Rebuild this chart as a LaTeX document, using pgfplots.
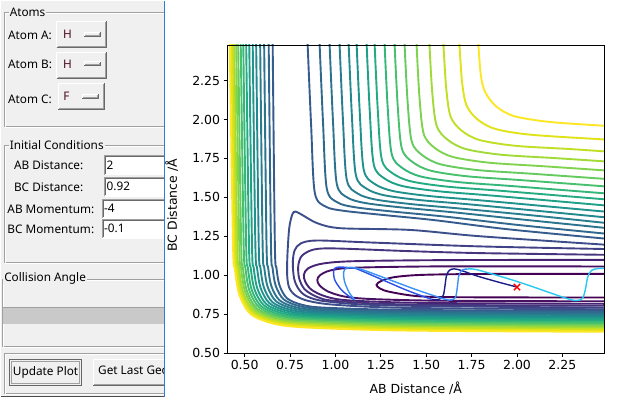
\documentclass[border=0pt]{standalone}
\usepackage{fontspec}
\setmainfont{DejaVu Sans}
\newfontfamily\gui{Noto Sans}
\usepackage{pgfplots}
\pgfplotsset{compat=1.18}
\definecolor{v0}{HTML}{440154}\definecolor{v1}{HTML}{471063}\definecolor{v2}{HTML}{482374}
\definecolor{v3}{HTML}{46347F}\definecolor{v4}{HTML}{414286}\definecolor{v5}{HTML}{3C4F8A}
\definecolor{v6}{HTML}{365C8D}\definecolor{v7}{HTML}{31688E}\definecolor{v8}{HTML}{2C738E}
\definecolor{v9}{HTML}{287D8E}\definecolor{v10}{HTML}{23898E}\definecolor{v11}{HTML}{20938C}
\definecolor{v12}{HTML}{1FA088}\definecolor{v13}{HTML}{25AB82}\definecolor{v14}{HTML}{35B779}
\definecolor{v15}{HTML}{48C16E}\definecolor{v16}{HTML}{65CB5E}\definecolor{v17}{HTML}{7FD34E}
\definecolor{v18}{HTML}{A2DA37}\definecolor{v19}{HTML}{C0DF25}\definecolor{v20}{HTML}{DFE318}
\definecolor{v21}{HTML}{FDE725}
\definecolor{guigray}{HTML}{F0F0F0}
\definecolor{etchd}{HTML}{A0A0A0}
\definecolor{btnd}{HTML}{696969}
\definecolor{sepblue}{HTML}{2F7ED8}
\definecolor{hcol}{HTML}{4B0A1E}
\definecolor{trA}{HTML}{1B1B8A}
\definecolor{trB}{HTML}{2A50E8}
\definecolor{trC}{HTML}{3A92F8}
\definecolor{trD}{HTML}{28C8F0}
\newcommand\guifont{\gui\fontsize{11.8bp}{13bp}\selectfont}
\newcommand\raised[4]{%
  \fill[guigray] (#1,#2) rectangle (#3,#4);
  \draw[white] (#1,#4) -- (#1,#2) -- (#3,#2);
  \draw[btnd] (#1,#4) -- (#3,#4) -- (#3,#2);
  \draw[etchd] ({#1+1},{#4-1}) -- ({#3-1},{#4-1}) -- ({#3-1},{#2+1});}
\newcommand\sunken[4]{%
  \fill[white] (#1,#2) rectangle (#3,#4);
  \draw[etchd] (#1,#4) -- (#1,#2) -- (#3,#2);
  \draw[btnd] ({#1+1},{#4-1}) -- ({#1+1},{#2+1}) -- ({#3-1},{#2+1});
  \draw[white] (#1,#4) -- (#3,#4) -- (#3,#2);}
\pgfplotsset{ct/.style={smooth, line width=1.9bp, no markers}}
\begin{document}
\begin{tikzpicture}
\begin{scope}[x=1bp,y=-1bp]
\fill[white] (0,0) rectangle (629,397);
\fill[guigray] (0,0) rectangle (164,397);
% Atoms frame
\draw[etchd] (3.5,11.7) rectangle (180,126);
\draw[white] (4.5,12.7) rectangle (181,127);
\node[anchor=west, fill=guigray, inner xsep=1bp, inner ysep=0pt, font=\guifont] at (8,11.2) {Atoms};
\node[anchor=west, inner sep=0pt, font=\guifont] at (7.3,35) {Atom A:};
\node[anchor=west, inner sep=0pt, font=\guifont] at (7.3,64) {Atom B:};
\node[anchor=west, inner sep=0pt, font=\guifont] at (7.3,98.3) {Atom C:};
\raised{56}{20.7}{105.3}{46.7}
\raised{56}{51.7}{105.3}{77.3}
\raised{57.3}{82.7}{104}{108.7}
\node[font=\guifont, text=hcol, inner sep=0pt] at (67,34) {H};
\node[font=\guifont, text=hcol, inner sep=0pt] at (67,64) {H};
\node[font=\guifont, text=hcol, inner sep=0pt] at (65.8,96) {F};
\raised{83.3}{31.3}{100}{35.3}
\raised{83.3}{61}{100}{65}
\raised{81.7}{93.7}{97.7}{97.7}
% Initial conditions frame
\draw[etchd] (3.5,145) rectangle (180,262);
\draw[white] (4.5,146) rectangle (181,263);
\node[anchor=west, fill=guigray, inner xsep=1bp, inner ysep=0pt, font=\guifont] at (8,144.5) {Initial Conditions};
\node[anchor=west, inner sep=0pt, font=\guifont] at (13.3,165) {AB Distance:};
\node[anchor=west, inner sep=0pt, font=\guifont] at (13.3,186.7) {BC Distance:};
\node[anchor=west, inner sep=0pt, font=\guifont] at (6.7,208.5) {AB Momentum:};
\node[anchor=west, inner sep=0pt, font=\guifont] at (6.7,228.5) {BC Momentum:};
\sunken{104}{155}{175}{174}
\sunken{104}{176.7}{175}{195.7}
\sunken{101.5}{198.3}{175}{217.3}
\sunken{101.5}{218.3}{175}{237.3}
\node[anchor=west, inner sep=0pt, font=\guifont] at (106,164.5) {2};
\node[anchor=west, inner sep=0pt, font=\guifont] at (106,186.2) {0.92};
\node[anchor=west, inner sep=0pt, font=\guifont] at (103.5,207.8) {-4};
\node[anchor=west, inner sep=0pt, font=\guifont] at (103.5,227.8) {-0.1};
% Collision angle frame
\draw[etchd] (2,278.3) rectangle (180,346);
\draw[white] (3,279.3) rectangle (181,347);
\node[anchor=west, fill=guigray, inner xsep=1bp, inner ysep=0pt, font=\guifont] at (2.5,277.8) {Collision Angle};
\fill[black!21] (2,306.7) rectangle (175,323.5);
\draw[etchd] (2,323.5) -- (2,306.7) -- (175,306.7);
% bottom frame
\draw[etchd] (3.5,352.5) rectangle (180,393);
\draw[white] (4.5,353.5) rectangle (181,394);
\fill[guigray] (9.3,359.3) rectangle (80.7,385);
\draw[black!60, line width=1.2bp] (9.3,359.3) rectangle (80.7,385);
\draw[etchd] (11,361) rectangle (79,383.3);
\node[font=\guifont, inner sep=0pt] at (45,372.5) {Update Plot};
\raised{92.3}{359}{190}{384.5}
\node[anchor=west, font=\guifont, inner sep=0pt] at (97.5,371.5) {Get Last Geometry};
\draw[black!70, line width=1.2bp] (0,396.4) -- (164,396.4);
% plot region
\fill[white] (164.6,0) rectangle (629,397);
\draw[sepblue, line width=1.4bp] (164,0) -- (164,397);
\end{scope}
\begin{axis}[
  at={(226.7bp,-352.7bp)}, anchor=south west,
  scale only axis, width=377.6bp, height=308.4bp,
  xmin=0.403, xmax=2.481, ymin=0.5, ymax=2.479,
  axis on top,
  xtick={0.5,0.75,1,1.25,1.5,1.75,2,2.25},
  xticklabels={0.50,0.75,1.00,1.25,1.50,1.75,2.00,2.25},
  ytick={0.5,0.75,1,1.25,1.5,1.75,2,2.25},
  yticklabels={0.50,0.75,1.00,1.25,1.50,1.75,2.00,2.25},
  tick align=outside, major tick length=3.5bp,
  xtick pos=left, ytick pos=left,
  tick style={black, line width=0.8bp},
  axis line style={black, line width=0.9bp},
  ticklabel style={font=\fontsize{12.5bp}{14bp}\selectfont},
  label style={font=\fontsize{12.5bp}{14bp}\selectfont},
  xlabel={AB Distance /Å}, ylabel={BC Distance /Å},
  xlabel style={at={(axis description cs:0.5,-0.115)}, anchor=center},
  ylabel style={at={(axis description cs:-0.147,0.48)}, anchor=center},
]
% --- wall contours (levels 6..21)
\addplot[ct, v6] coordinates {(0.654,2.5) (0.6661,1.2) (0.6750,1.0467) (0.6918,0.9351) (0.7336,0.8514) (0.8173,0.8096) (0.9429,0.7916) (1.4,0.7770) (2.5,0.7715)};
\addplot[ct, v7] coordinates {(0.632,2.5) (0.6447,1.2) (0.6536,1.0477) (0.671,0.932) (0.7144,0.8452) (0.8012,0.8018) (0.9314,0.7832) (1.4,0.7682) (2.5,0.7625)};
\addplot[ct, v8] coordinates {(0.607,2.5) (0.6202,1.2) (0.6292,1.0485) (0.6472,0.9288) (0.6921,0.839) (0.7819,0.7941) (0.9166,0.7749) (1.4,0.7593) (2.5,0.7535)};
\addplot[ct, v9] coordinates {(0.585,2.5) (0.5987,1.2) (0.6078,1.0491) (0.6264,0.9255) (0.6727,0.8328) (0.7654,0.7865) (0.9045,0.7666) (1.4,0.7506) (2.5,0.7446)};
\addplot[ct, v10] coordinates {(0.563,2.5) (0.5773,1.2) (0.5865,1.0495) (0.6056,0.922) (0.6534,0.8264) (0.749,0.7786) (0.8924,0.7581) (1.4,0.7416) (2.5,0.7356)};
\addplot[ct, v11] coordinates {(0.544,2.5) (0.5587,1.2) (0.568,1.0493) (0.5877,0.9182) (0.6368,0.8199) (0.7351,0.7708) (0.8826,0.7497) (1.4,0.7328) (2.5,0.7266)};
\addplot[ct, v12] coordinates {(0.525,2.5) (0.5401,1.2) (0.5495,1.0491) (0.5697,0.9144) (0.6202,0.8134) (0.7212,0.7629) (0.8727,0.7413) (1.4,0.724) (2.5,0.7176)};
\addplot[ct, v13] coordinates {(0.508,2.5) (0.5235,1.2) (0.533,1.0485) (0.5537,0.9104) (0.6055,0.8068) (0.7091,0.755) (0.8645,0.7328) (1.4,0.7152) (2.5,0.7086)};
\addplot[ct, v14] coordinates {(0.492,2.5) (0.508,1.2) (0.5176,1.0479) (0.5388,0.9063) (0.5919,0.8001) (0.6981,0.747) (0.8574,0.7242) (1.4,0.7062) (2.5,0.6996)};
\addplot[ct, v15] coordinates {(0.478,2.5) (0.4943,1.2) (0.504,1.0467) (0.5257,0.9019) (0.58,0.7933) (0.6886,0.739) (0.8515,0.7157) (1.4,0.6974) (2.5,0.6906)};
\addplot[ct, v16] coordinates {(0.464,2.5) (0.4806,1.2) (0.4904,1.0455) (0.5126,0.8975) (0.5681,0.7865) (0.6791,0.731) (0.8456,0.7072) (1.4,0.6886) (2.5,0.6816)};
\addplot[ct, v17] coordinates {(0.453,2.5) (0.47,1.2) (0.4799,1.0444) (0.5026,0.8932) (0.5593,0.7798) (0.6727,0.7231) (0.8428,0.6988) (1.4,0.6799) (2.5,0.6727)};
\addplot[ct, v18] coordinates {(0.442,2.5) (0.4593,1.2) (0.4693,1.0431) (0.4925,0.8887) (0.5504,0.7729) (0.6662,0.715) (0.8399,0.6902) (1.4,0.671) (2.5,0.6637)};
\addplot[ct, v19] coordinates {(0.434,2.5) (0.4516,1.2) (0.4618,1.0412) (0.4854,0.8839) (0.5444,0.7659) (0.6624,0.7069) (0.8394,0.6816) (1.4,0.6622) (2.5,0.6547)};
\addplot[ct, v20] coordinates {(0.426,2.5) (0.4439,1.2) (0.4542,1.0397) (0.4783,0.8793) (0.5384,0.759) (0.6587,0.6989) (0.8392,0.673) (1.4,0.6534) (2.5,0.6457)};
\addplot[ct, v21] coordinates {(0.4175,2.5) (0.4357,1.2) (0.4462,1.0377) (0.4707,0.8744) (0.5319,0.7519) (0.6544,0.6907) (0.8382,0.6644) (1.4,0.6445) (2.5,0.6367)};
% --- upper-right contours (levels 6..21)
\addplot[ct, v6] coordinates {(0.846,2.5) (0.866,1.9603) (0.886,1.5306) (0.946,1.4406) (1.046,1.4137) (1.246,1.3889) (1.546,1.3537) (1.946,1.2957) (2.5,1.2336)};
\addplot[ct, v7] coordinates {(0.912,2.5) (0.9317,1.9736) (0.952,1.5572) (1.012,1.4672) (1.112,1.436) (1.312,1.4094) (1.612,1.3755) (2.012,1.3221) (2.5,1.2657)};
\addplot[ct, v8] coordinates {(0.967,2.5) (0.9863,1.9892) (1.007,1.5883) (1.067,1.4983) (1.167,1.4632) (1.367,1.435) (1.667,1.4021) (2.067,1.3533) (2.5,1.3023)};
\addplot[ct, v9] coordinates {(1.022,2.5) (1.041,2.0025) (1.062,1.6149) (1.122,1.5249) (1.222,1.486) (1.422,1.4563) (1.722,1.4247) (2.122,1.3801) (2.5,1.3344)};
\addplot[ct, v10] coordinates {(1.072,2.5) (1.0907,2.0177) (1.112,1.6453) (1.172,1.5553) (1.272,1.5129) (1.472,1.4819) (1.772,1.4515) (2.5,1.3703)};
\addplot[ct, v11] coordinates {(1.116,2.5) (1.1343,2.0332) (1.156,1.6764) (1.216,1.5864) (1.316,1.541) (1.516,1.5087) (1.816,1.4792) (2.5,1.4069)};
\addplot[ct, v12] coordinates {(1.171,2.5) (1.189,2.0504) (1.211,1.7107) (1.271,1.6207) (1.371,1.5723) (1.571,1.5389) (1.871,1.5107) (2.5,1.4467)};
\addplot[ct, v13] coordinates {(1.215,2.5) (1.2327,2.0672) (1.255,1.7444) (1.315,1.6544) (1.415,1.6033) (1.615,1.569) (1.915,1.542) (2.5,1.4859)};
\addplot[ct, v14] coordinates {(1.27,2.5) (1.2873,2.0837) (1.31,1.7774) (1.37,1.6874) (1.47,1.6341) (1.67,1.5989) (1.97,1.5728) (2.5,1.5244)};
\addplot[ct, v15] coordinates {(1.325,2.5) (1.342,2.1034) (1.365,1.8168) (1.425,1.7268) (1.525,1.6714) (1.725,1.6355) (2.025,1.6106) (2.5,1.5693)};
\addplot[ct, v16] coordinates {(1.38,2.5) (1.3967,2.1248) (1.42,1.8595) (1.48,1.7695) (1.58,1.7122) (1.78,1.6757) (2.08,1.652) (2.5,1.6175)};
\addplot[ct, v17] coordinates {(1.446,2.5) (1.4623,2.1493) (1.486,1.9085) (1.546,1.8185) (1.646,1.7598) (1.846,1.7228) (2.146,1.70) (2.5,1.672)};
\addplot[ct, v18] coordinates {(1.517,2.5) (1.533,2.1754) (1.557,1.9608) (1.617,1.8708) (1.717,1.8107) (1.917,1.7735) (2.217,1.7518) (2.5,1.7298)};
\addplot[ct, v19] coordinates {(1.594,2.5) (1.6097,2.2048) (1.634,2.0195) (1.694,1.9295) (1.794,1.8684) (1.994,1.831) (2.294,1.8104) (2.5,1.794)};
\addplot[ct, v20] coordinates {(1.682,2.5) (1.6973,2.2405) (1.722,2.091) (1.782,2.001) (1.882,1.9393) (2.082,1.9018) (2.5,1.871)};
\addplot[ct, v21] coordinates {(1.786,2.5) (1.801,2.2817) (1.826,2.1734) (1.886,2.0834) (1.986,2.0212) (2.186,1.9838) (2.5,1.9589)};
% --- well contours (levels 0..5)
\addplot[ct, v0] coordinates {(2.5,1.009) (1.8,1.008) (1.47,1.002) (1.32,0.987) (1.25,0.962) (1.226,0.938) (1.245,0.915) (1.30,0.893) (1.47,0.864) (1.8,0.858) (2.5,0.857)};
\addplot[ct, v1] coordinates {(2.5,1.056) (1.6,1.057) (1.1,1.048) (0.97,1.03) (0.915,1.0) (0.90,0.97) (0.912,0.935) (0.96,0.895) (1.05,0.863) (1.2,0.847) (1.6,0.836) (2.5,0.8325)};
\addplot[ct, v2] coordinates {(2.5,1.099) (1.6,1.097) (1.1,1.09) (0.93,1.075) (0.85,1.045) (0.826,1.003) (0.835,0.955) (0.87,0.905) (0.95,0.862) (1.08,0.838) (1.5,0.822) (2.5,0.8164)};
\addplot[ct, v3] coordinates {(2.5,1.131) (1.8,1.142) (1.4,1.155) (1.0,1.172) (0.88,1.165) (0.815,1.125) (0.795,1.06) (0.80,0.98) (0.83,0.91) (0.9,0.86) (1.0,0.835) (1.4,0.812) (2.5,0.8036)};
\addplot[ct, v4] coordinates {(2.5,1.168) (1.8,1.185) (1.2,1.21) (0.9,1.223) (0.81,1.205) (0.775,1.16) (0.765,1.08) (0.772,0.98) (0.795,0.915) (0.84,0.866) (0.95,0.832) (1.3,0.806) (2.5,0.7908)};
\addplot[ct, v5] coordinates {(2.5,1.195) (1.8,1.25) (1.41,1.291) (1.028,1.302) (0.90,1.334) (0.82,1.385) (0.78,1.409) (0.762,1.39) (0.745,1.30) (0.735,1.12) (0.734,1.0) (0.745,0.92) (0.78,0.87) (0.85,0.835) (1.0,0.81) (1.4,0.79) (2.5,0.7811)};
% --- trajectory
\addplot[smooth, line width=1.4bp, trA] coordinates {(2.0,0.924) (1.90,0.955) (1.78,0.995) (1.70,1.028) (1.655,1.041) (1.628,1.032) (1.612,1.0) (1.603,0.93) (1.595,0.875) (1.58,0.85) (1.56,0.843) (1.53,0.845)};
\addplot[smooth, line width=1.4bp, trB] coordinates {(1.53,0.845) (1.40,0.90) (1.25,0.975) (1.13,1.035) (1.098,1.046) (1.04,1.052) (1.005,1.05) (0.99,1.03) (0.996,0.97) (1.033,0.906) (1.08,0.86) (1.106,0.842)};
\addplot[smooth, line width=1.4bp, trC] coordinates {(1.106,0.842) (1.075,0.89) (1.05,0.96) (1.045,1.02) (1.06,1.046) (1.10,1.048) (1.15,1.035) (1.30,0.97) (1.45,0.905) (1.60,0.847) (1.64,0.842) (1.662,0.86) (1.672,0.93) (1.68,1.0) (1.70,1.035) (1.724,1.039)};
\addplot[smooth, line width=1.4bp, trD] coordinates {(1.724,1.039) (1.78,1.035) (2.0,0.96) (2.2,0.88) (2.29,0.845) (2.33,0.838) (2.36,0.85) (2.375,0.9) (2.39,0.99) (2.41,1.03) (2.44,1.042) (2.5,1.045)};
\addplot[only marks, mark=x, mark size=4.5bp, red, line width=1.4bp] coordinates {(2.0,0.924)};
\end{axis}
\end{tikzpicture}
\end{document}
